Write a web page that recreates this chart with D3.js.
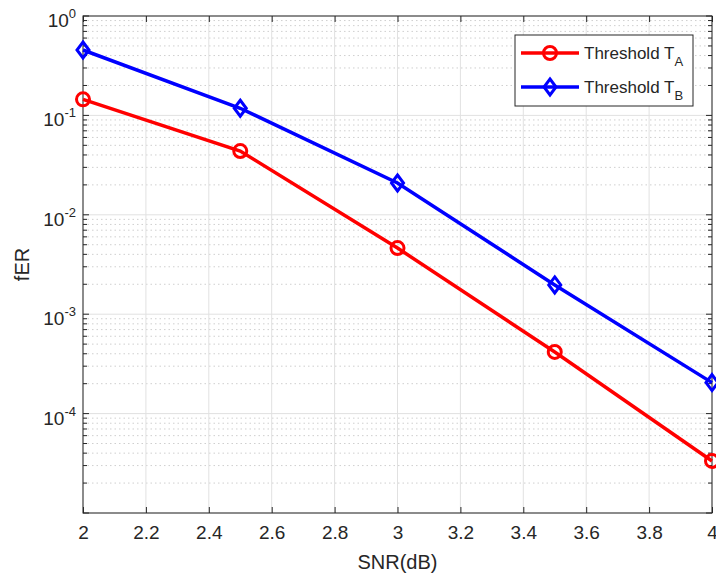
<!DOCTYPE html>
<html>
<head>
<meta charset="utf-8">
<script src="https://cdn.jsdelivr.net/npm/d3@7/dist/d3.min.js"></script>
<style>
  body { margin: 0; background: #fff; }
  text { font-family: "Liberation Sans", Arial, Helvetica, sans-serif; fill: #262626; }
</style>
</head>
<body>
<svg id="chart" width="716" height="576"></svg>
<script>
// values
var snr = [2, 2.5, 3, 3.5, 4];
var ferA = [0.145, 0.0438, 0.00463, 4.17e-4, 3.34e-5];
var ferB = [0.455, 0.118, 0.0209, 1.97e-3, 2.05e-4];
var xTicks = [2, 2.2, 2.4, 2.6, 2.8, 3, 3.2, 3.4, 3.6, 3.8, 4];
var yDecades = [-5, -4, -3, -2, -1, 0];
var yLabelled = [-4, -3, -2, -1, 0];
var seriesNames = ["A", "B"];

var width = 716, height = 576,
    margin = {left: 83, top: 16, right: 4, bottom: 63},
    plotW = width - margin.left - margin.right,
    plotH = height - margin.top - margin.bottom,
    axisColor = "#262626",
    gridColor = "#e1e1e1";

var svg = d3.select("#chart");
var g = svg.append("g").attr("transform", "translate(" + margin.left + "," + margin.top + ")");

var x = d3.scaleLinear().domain([2, 4]).range([0, plotW]);
var y = d3.scaleLog().domain([1e-5, 1]).range([plotH, 0]);

// minor values 2..9 x 10^d
var minors = [];
yDecades.slice(0, -1).forEach(function(d) {
    for (var k = 2; k <= 9; k++) minors.push(k * Math.pow(10, d));
});

// grid
g.append("g").selectAll("line").data(minors).enter().append("line")
    .attr("x1", 0).attr("x2", plotW)
    .attr("y1", function(d) { return y(d); }).attr("y2", function(d) { return y(d); })
    .attr("stroke", "#cfcfcf").attr("stroke-width", 1).attr("stroke-dasharray", "1.5,3");
g.append("g").selectAll("line").data(yDecades).enter().append("line")
    .attr("x1", 0).attr("x2", plotW)
    .attr("y1", function(d) { return y(Math.pow(10, d)); }).attr("y2", function(d) { return y(Math.pow(10, d)); })
    .attr("stroke", gridColor).attr("stroke-width", 1);
g.append("g").selectAll("line").data(xTicks).enter().append("line")
    .attr("x1", function(d) { return x(d); }).attr("x2", function(d) { return x(d); })
    .attr("y1", 0).attr("y2", plotH)
    .attr("stroke", gridColor).attr("stroke-width", 1);

// axes (ticks point inward, box on all four sides)
var tickLen = 6, minorLen = 4;
function styleAxis(sel) {
    sel.select(".domain").remove();
    sel.selectAll("line").attr("stroke", axisColor);
}
g.append("g").attr("transform", "translate(0," + plotH + ")")
    .call(d3.axisBottom(x).tickValues(xTicks).tickSizeInner(-tickLen).tickSizeOuter(0).tickPadding(13)
        .tickFormat(function(d) { return d3.format("")(+d.toFixed(1)); }))
    .call(styleAxis)
    .selectAll("text").attr("font-size", 19).attr("fill", axisColor)
    .style("font-family", "Liberation Sans, Arial, sans-serif");
g.append("g")
    .call(d3.axisTop(x).tickValues(xTicks).tickSizeInner(-tickLen).tickSizeOuter(0).tickFormat(""))
    .call(styleAxis);

[0, plotW].forEach(function(px, side) {
    var dir = side === 0 ? 1 : -1;
    g.append("g").selectAll("line").data(yDecades).enter().append("line")
        .attr("x1", px).attr("x2", px + dir * tickLen)
        .attr("y1", function(d) { return y(Math.pow(10, d)); }).attr("y2", function(d) { return y(Math.pow(10, d)); })
        .attr("stroke", axisColor);
    g.append("g").selectAll("line").data(minors).enter().append("line")
        .attr("x1", px).attr("x2", px + dir * minorLen)
        .attr("y1", function(d) { return y(d); }).attr("y2", function(d) { return y(d); })
        .attr("stroke", axisColor);
});

g.append("rect").attr("width", plotW).attr("height", plotH)
    .attr("fill", "none").attr("stroke", axisColor).attr("stroke-width", 1);

// y tick labels 10^n
var yl = g.append("g").selectAll("text").data(yLabelled).enter().append("text")
    .attr("x", -7).attr("y", function(d) { return y(Math.pow(10, d)) + 11; })
    .attr("text-anchor", "end").attr("font-size", 19);
yl.append("tspan").text("10");
yl.append("tspan").attr("dy", -9).attr("font-size", 13).text(function(d) { return d === 0 ? "0" : "-" + (-d); });

// axis titles
svg.append("text").attr("x", margin.left + plotW / 2).attr("y", 569)
    .attr("text-anchor", "middle").attr("font-size", 20).text("SNR(dB)");
svg.append("text").attr("transform", "translate(29," + (margin.top + plotH / 2) + ") rotate(-90)")
    .attr("text-anchor", "middle").attr("font-size", 20).text("fER");

// series
var series = [
    {name: seriesNames[0], values: ferA, color: "#ff0000", marker: "circle"},
    {name: seriesNames[1], values: ferB, color: "#0000ff", marker: "diamond"}
];
var line = d3.line().x(function(d) { return x(d[0]); }).y(function(d) { return y(d[1]); });

function drawMarker(sel, kind, color) {
    if (kind === "circle") {
        sel.append("circle").attr("r", 6.5)
            .attr("fill", "none").attr("stroke", color).attr("stroke-width", 3);
    } else {
        sel.append("path").attr("d", "M0,-8L6,0L0,8L-6,0Z")
            .attr("fill", "none").attr("stroke", color).attr("stroke-width", 3);
    }
}

series.forEach(function(s) {
    var pts = d3.zip(snr, s.values);
    g.append("path").datum(pts).attr("d", line)
        .attr("fill", "none").attr("stroke", s.color).attr("stroke-width", 3.5);
    g.append("g").selectAll("g").data(pts).enter().append("g")
        .attr("transform", function(d) { return "translate(" + x(d[0]) + "," + y(d[1]) + ")"; })
        .each(function() { drawMarker(d3.select(this), s.marker, s.color); });
});

// legend
var lg = svg.append("g").attr("transform", "translate(515,35)");
lg.append("rect").attr("width", 178).attr("height", 71)
    .attr("fill", "#fff").attr("stroke", axisColor).attr("stroke-width", 1);
series.forEach(function(s, i) {
    var row = lg.append("g").attr("transform", "translate(0," + (18 + i * 34) + ")");
    row.append("line").attr("x1", 6).attr("x2", 64).attr("y1", 0).attr("y2", 0)
        .attr("stroke", s.color).attr("stroke-width", 3.5);
    var m = row.append("g").attr("transform", "translate(35,0)");
    drawMarker(m, s.marker, s.color);
    var t = row.append("text").attr("x", 69).attr("y", 6).attr("font-size", 17);
    t.append("tspan").text("Threshold T");
    t.append("tspan").attr("dy", 7).attr("font-size", 13).text(s.name);
});
</script>
</body>
</html>
